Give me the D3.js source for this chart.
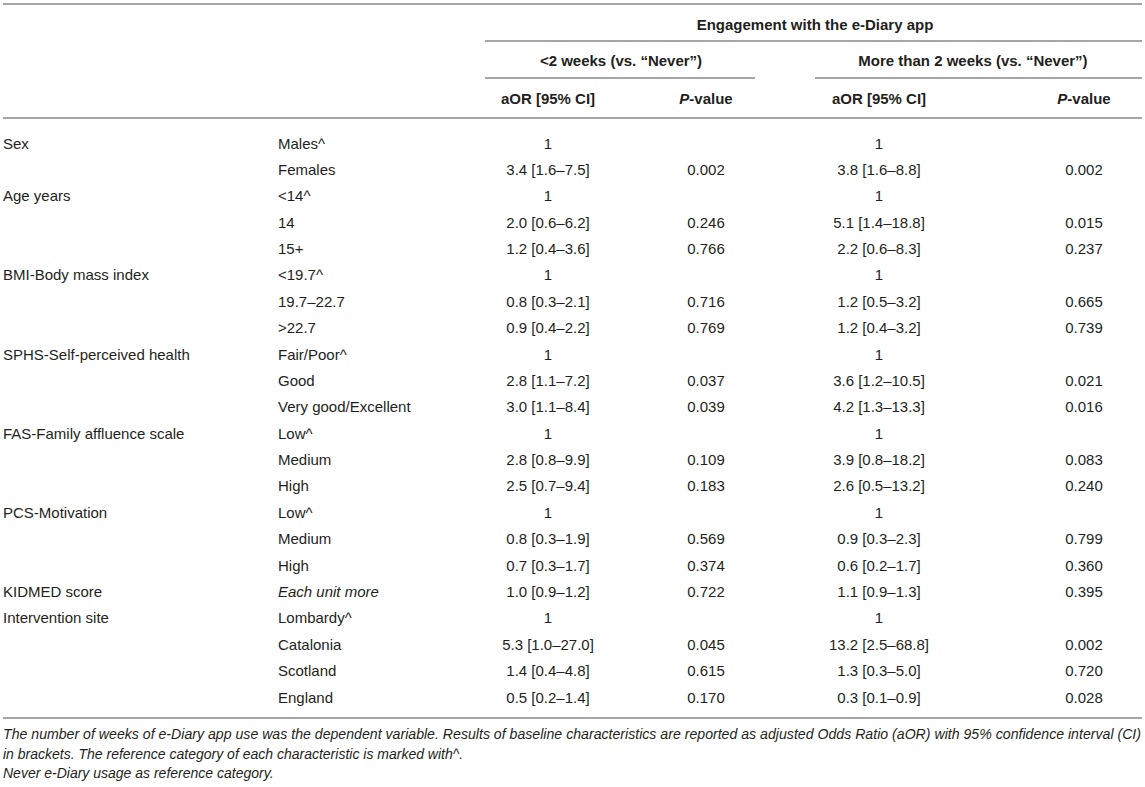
<!DOCTYPE html>
<html>
<head>
<meta charset="utf-8">
<script src="https://cdn.jsdelivr.net/npm/d3@7"></script>
<style>
  html, body { margin: 0; padding: 0; background: #ffffff; }
  svg { display: block; }
</style>
</head>
<body>
<svg id="chart" width="1145" height="787"></svg>
<script>
// ---------- data ----------
const characteristics = ["Sex", "", "Age years", "", "", "BMI-Body mass index", "", "",
  "SPHS-Self-perceived health", "", "", "FAS-Family affluence scale", "", "",
  "PCS-Motivation", "", "", "KIDMED score", "Intervention site", "", "", ""];
const levels = ["Males^", "Females", "<14^", "14", "15+", "<19.7^", "19.7–22.7", ">22.7",
  "Fair/Poor^", "Good", "Very good/Excellent", "Low^", "Medium", "High",
  "Low^", "Medium", "High", "Each unit more", "Lombardy^", "Catalonia", "Scotland", "England"];
const aorLess2 = ["1", "3.4 [1.6–7.5]", "1", "2.0 [0.6–6.2]", "1.2 [0.4–3.6]", "1", "0.8 [0.3–2.1]", "0.9 [0.4–2.2]",
  "1", "2.8 [1.1–7.2]", "3.0 [1.1–8.4]", "1", "2.8 [0.8–9.9]", "2.5 [0.7–9.4]",
  "1", "0.8 [0.3–1.9]", "0.7 [0.3–1.7]", "1.0 [0.9–1.2]", "1", "5.3 [1.0–27.0]", "1.4 [0.4–4.8]", "0.5 [0.2–1.4]"];
const pLess2 = ["", "0.002", "", "0.246", "0.766", "", "0.716", "0.769",
  "", "0.037", "0.039", "", "0.109", "0.183",
  "", "0.569", "0.374", "0.722", "", "0.045", "0.615", "0.170"];
const aorMore2 = ["1", "3.8 [1.6–8.8]", "1", "5.1 [1.4–18.8]", "2.2 [0.6–8.3]", "1", "1.2 [0.5–3.2]", "1.2 [0.4–3.2]",
  "1", "3.6 [1.2–10.5]", "4.2 [1.3–13.3]", "1", "3.9 [0.8–18.2]", "2.6 [0.5–13.2]",
  "1", "0.9 [0.3–2.3]", "0.6 [0.2–1.7]", "1.1 [0.9–1.3]", "1", "13.2 [2.5–68.8]", "1.3 [0.3–5.0]", "0.3 [0.1–0.9]"];
const pMore2 = ["", "0.002", "", "0.015", "0.237", "", "0.665", "0.739",
  "", "0.021", "0.016", "", "0.083", "0.240",
  "", "0.799", "0.360", "0.395", "", "0.002", "0.720", "0.028"];
const italicLevels = ["Each unit more"];

const spannerTitle = "Engagement with the e-Diary app";
const groupTitles = ["<2 weeks (vs. “Never”)", "More than 2 weeks (vs. “Never”)"];
const footnotes = [
  "The number of weeks of e-Diary app use was the dependent variable. Results of baseline characteristics are reported as adjusted Odds Ratio (aOR) with 95% confidence interval (CI)",
  "in brackets. The reference category of each characteristic is marked with^.",
  "Never e-Diary usage as reference category."
];

// ---------- layout ----------
const svg = d3.select("#chart");
const FONT = "'Liberation Sans', Arial, Helvetica, sans-serif";
const textColor = "#231f20";
const ruleColor = "#a6a6a6";

const rowIdx = d3.range(levels.length);
const y = d3.scalePoint().domain(rowIdx).range([143, 697]);

const colCenters = { aor1: 548, p1: 706, aor2: 879, p2: 1084 };

function rule(x1, x2, yy) {
  svg.append("line").attr("x1", x1).attr("x2", x2).attr("y1", yy).attr("y2", yy)
    .attr("stroke", ruleColor).attr("stroke-width", 2);
}

rule(3, 1142, 4);
rule(485, 1142, 41);
rule(485, 755, 78);
rule(815, 1142, 78);
rule(3, 1142, 118);
rule(3, 1142, 718);

const hdr = svg.append("g").attr("font-family", FONT).attr("font-weight", "bold")
  .attr("font-size", 15).attr("fill", textColor).attr("text-anchor", "middle")
  .attr("dominant-baseline", "central");

hdr.append("text").attr("x", 815).attr("y", 24).text(spannerTitle);
hdr.append("text").attr("x", 621).attr("y", 60).text(groupTitles[0]);
hdr.append("text").attr("x", 973).attr("y", 60).text(groupTitles[1]);

hdr.append("text").attr("x", colCenters.aor1).attr("y", 98).text("aOR [95% CI]");
const pv1 = hdr.append("text").attr("x", colCenters.p1).attr("y", 98);
pv1.append("tspan").attr("font-style", "italic").text("P");
pv1.append("tspan").text("-value");
hdr.append("text").attr("x", colCenters.aor2).attr("y", 98).text("aOR [95% CI]");
const pv2 = hdr.append("text").attr("x", colCenters.p2).attr("y", 98);
pv2.append("tspan").attr("font-style", "italic").text("P");
pv2.append("tspan").text("-value");

// ---------- body ----------
const body = svg.append("g").attr("font-family", FONT).attr("font-size", 15)
  .attr("fill", textColor).attr("dominant-baseline", "central");

body.selectAll("text.char").data(rowIdx).join("text").attr("class", "char")
  .attr("x", 3).attr("y", i => y(i)).text(i => characteristics[i]);

body.selectAll("text.lvl").data(rowIdx).join("text").attr("class", "lvl")
  .attr("x", 278).attr("y", i => y(i))
  .attr("font-style", i => italicLevels.includes(levels[i]) ? "italic" : "normal")
  .text(i => levels[i]);

const valueCols = [
  { arr: aorLess2, x: colCenters.aor1 },
  { arr: pLess2, x: colCenters.p1 },
  { arr: aorMore2, x: colCenters.aor2 },
  { arr: pMore2, x: colCenters.p2 }
];
valueCols.forEach((c, ci) => {
  body.selectAll("text.v" + ci).data(rowIdx).join("text").attr("class", "v" + ci)
    .attr("x", c.x).attr("y", i => y(i)).attr("text-anchor", "middle")
    .text(i => c.arr[i]);
});

// ---------- footnotes ----------
const fn = svg.append("g").attr("font-family", FONT).attr("font-size", 14)
  .attr("font-style", "italic").attr("fill", textColor).attr("dominant-baseline", "central");
const fnY = [734, 754, 773];
fn.selectAll("text").data(footnotes).join("text")
  .attr("x", 3).attr("y", (d, i) => fnY[i]).text(d => d)
  .each(function (d, i) {
    if (i === 0) {
      d3.select(this).attr("textLength", 1138).attr("lengthAdjust", "spacingAndGlyphs");
    }
  });
</script>
</body>
</html>
